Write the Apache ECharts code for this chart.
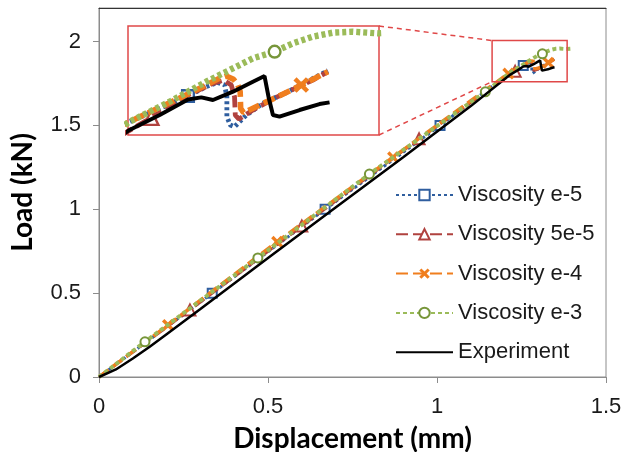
<!DOCTYPE html>
<html>
<head>
<meta charset="utf-8">
<script src="https://cdn.jsdelivr.net/npm/echarts@6/dist/echarts.min.js"></script>
<style>
html,body{margin:0;padding:0;background:#fff;}
#c{width:633px;height:452px;}
</style>
</head>
<body>
<div id="c"></div>
<script>
// ---- data ----
const xTicks = [0, 0.5, 1, 1.5];
const yTicks = [0, 0.5, 1, 1.5, 2];
const seriesNames = ['Viscosity e-5', 'Viscosity 5e-5', 'Viscosity e-4', 'Viscosity e-3', 'Experiment'];

const e5X = [0, 0.335, 0.669, 1.009, 1.2171, 1.2552, 1.2671, 1.2745, 1.2791, 1.2806, 1.2806, 1.2828, 1.2856, 1.2933, 1.3042, 1.3194, 1.3466];
const e5Y = [0, 0.50, 1.00, 1.50, 1.816, 1.8565, 1.8712, 1.878, 1.874, 1.8554, 1.8238, 1.8107, 1.808, 1.8265, 1.845, 1.862, 1.8965];
const e5Marks = [1, 2, 3, 5];

const e55X = [0, 0.269, 0.600, 0.947, 1.2312, 1.2552, 1.2715, 1.2785, 1.2835, 1.2856, 1.2861, 1.2885, 1.2976, 1.3128, 1.3368, 1.3466];
const e55Y = [0, 0.40, 0.90, 1.42, 1.8223, 1.858, 1.8765, 1.8817, 1.8738, 1.8554, 1.8265, 1.8202, 1.8344, 1.8544, 1.8817, 1.8949];
const e55Marks = [1, 2, 3, 4];

const e4X = [0, 0.204, 0.527, 0.870, 1.211, 1.2367, 1.2552, 1.2671, 1.2758, 1.2802, 1.285, 1.2878, 1.2893, 1.2896, 1.2915, 1.302, 1.3128, 1.3292, 1.3466];
const e4Y = [0, 0.31, 0.806, 1.31, 1.809, 1.8386, 1.8596, 1.8738, 1.8844, 1.888, 1.8828, 1.8738, 1.8633, 1.837, 1.8302, 1.8423, 1.8544, 1.8738, 1.8949];
const e4Marks = [1, 2, 3, 4, 17];

const e3X = [0, 0.136, 0.470, 0.800, 1.143, 1.2171, 1.2432, 1.2671, 1.2824, 1.2976, 1.3118, 1.3237, 1.3368, 1.3498, 1.3629, 1.3792, 1.400];
const e3Y = [0, 0.21, 0.71, 1.21, 1.70, 1.816, 1.8475, 1.8791, 1.8975, 1.916, 1.9265, 1.9396, 1.9502, 1.9565, 1.958, 1.9554, 1.958];
const e3Marks = [1, 2, 3, 4, 10];

const expX = [0, 0.05, 0.10, 0.15, 0.20, 0.30, 0.50, 0.70, 0.90, 1.10, 1.217, 1.2367, 1.2552, 1.2639, 1.2715, 1.2846, 1.2976, 1.3052, 1.3078, 1.3107, 1.315, 1.3281, 1.3411, 1.3477];
const expY = [0, 0.045, 0.11, 0.18, 0.255, 0.405, 0.71, 1.01, 1.31, 1.615, 1.803, 1.8265, 1.851, 1.8544, 1.8502, 1.8633, 1.8791, 1.888, 1.8554, 1.8265, 1.824, 1.8344, 1.8438, 1.8465];
const expMarks = [];

// zoom window shown on main chart (red box) and range of the inset
const boxX = [1.163, 1.385];
const boxY = [1.761, 2.006];
const insetX = [1.216, 1.380];
const insetY = [1.795, 1.967];

// ---- styles ----
const colors = ['#2F5E9F', '#B0423F', '#F07E1E', '#9BBB59', '#000000'];
const markColors = ['#2F5E9F', '#B0423F', '#F07E1E', '#77963A', '#000000'];
const xPath = 'path://M2,0 L5,3 L8,0 L10,2 L7,5 L10,8 L8,10 L5,7 L2,10 L0,8 L3,5 L0,2 Z';
const symbols = ['rect', 'triangle', xPath, 'circle', 'none'];
const dashes = [[3, 3], [12, 5], [12, 5], [4, 3], 'solid'];
const widths = [3, 3, 3.5, 4, 2.5];

const xs = [e5X, e55X, e4X, e3X, expX];
const ys = [e5Y, e55Y, e4Y, e3Y, expY];
const marks = [e5Marks, e55Marks, e4Marks, e3Marks, expMarks];

function buildSeries(i, inset) {
  const k = inset ? 1.6 : 1;
  const data = xs[i].map((x, j) => {
    const item = { value: [x, ys[i][j]] };
    if (marks[i].indexOf(j) < 0) item.symbol = 'none';
    return item;
  });
  const isX = i === 2;
  return {
    name: seriesNames[i],
    type: 'line',
    xAxisIndex: inset ? 1 : 0,
    yAxisIndex: inset ? 1 : 0,
    data: data,
    symbol: symbols[i],
    symbolSize: (isX ? 12 : (i === 1 ? 11 : 9)) * (inset ? 1.3 : 1),
    showAllSymbol: true,
    smooth: false,
    clip: true,
    z: (inset ? 30 : 2) + i,
    lineStyle: { color: colors[i], width: widths[i] * k, type: dashes[i], cap: 'butt' },
    itemStyle: isX
      ? { color: markColors[i], borderWidth: 0 }
      : { color: '#ffffff', borderColor: markColors[i], borderWidth: 2 * (inset ? 1.2 : 1) },
    emphasis: { disabled: true },
    animation: false
  };
}

const series = [];
for (let i = 0; i < 5; i++) series.push(buildSeries(i, false));
for (let i = 0; i < 5; i++) series.push(buildSeries(i, true));

const axisFont = { fontFamily: 'Liberation Sans', fontSize: 22, color: '#1a1a1a' };
const titleFont = { fontFamily: 'Lato', fontWeight: 'bold', fontSize: 28, color: '#000' };

const legendData = seriesNames.map((n, i) => i === 4
  ? { name: n, itemStyle: { color: 'rgba(0,0,0,0)', borderColor: 'rgba(0,0,0,0)', borderWidth: 0 } }
  : { name: n });

const chart = echarts.init(document.getElementById('c'), null, { renderer: 'canvas' });
chart.setOption({
  animation: false,
  backgroundColor: '#fff',
  textStyle: { fontFamily: 'Liberation Sans' },
  grid: [
    { left: 99, right: 27, top: 8, bottom: 75, show: true, borderColor: '#8c8c8c', borderWidth: 1, containLabel: false, outerBoundsMode: 'none' },
    { left: 128, top: 26, width: 251, height: 109, show: true, borderColor: '#E04848', borderWidth: 1.5, backgroundColor: '#fff', z: 10, containLabel: false, outerBoundsMode: 'none' }
  ],
  xAxis: [
    {
      type: 'value', gridIndex: 0, min: 0, max: 1.5, interval: 0.5,
      name: 'Displacement (mm)', nameLocation: 'middle', nameGap: 48, nameTextStyle: titleFont,
      axisLine: { show: true, onZero: false, lineStyle: { color: '#8c8c8c', width: 1 } },
      axisTick: { show: true, inside: false, length: 6, lineStyle: { color: '#8c8c8c' }, customValues: xTicks },
      axisLabel: { ...axisFont, margin: 19, customValues: xTicks },
      splitLine: { show: false }
    },
    {
      type: 'value', gridIndex: 1, min: insetX[0], max: insetX[1], show: false
    },
    {
      type: 'value', gridIndex: 0, position: 'top', min: 0, max: 1.5,
      axisLine: { show: true, onZero: false, lineStyle: { color: '#333', width: 1 } },
      axisTick: { show: false }, axisLabel: { show: false }, splitLine: { show: false }
    }
  ],
  yAxis: [
    {
      type: 'value', gridIndex: 0, min: 0, max: 2.2, interval: 0.5,
      name: 'Load (kN)', nameLocation: 'middle', nameGap: 62, nameRotate: 90, nameTextStyle: titleFont,
      axisLine: { show: true, onZero: false, lineStyle: { color: '#8c8c8c', width: 1 } },
      axisTick: { show: true, inside: false, length: 6, lineStyle: { color: '#8c8c8c' }, customValues: yTicks },
      axisLabel: { ...axisFont, margin: 18, customValues: yTicks },
      splitLine: { show: false }
    },
    {
      type: 'value', gridIndex: 1, min: insetY[0], max: insetY[1], show: false
    }
  ],
  legend: {
    data: legendData,
    orient: 'vertical',
    left: 395, top: 184,
    itemWidth: 57, itemHeight: 13, itemGap: 17.3,
    padding: 0,
    textStyle: { fontFamily: 'Liberation Sans', fontSize: 22, color: '#1a1a1a' },
    selectedMode: false
  },
  series: series
});

// red zoom box + dashed connectors, positioned through the chart's coordinate systems
const p00 = chart.convertToPixel({ gridIndex: 0 }, [boxX[0], boxY[1]]);
const p11 = chart.convertToPixel({ gridIndex: 0 }, [boxX[1], boxY[0]]);
const i00 = chart.convertToPixel({ gridIndex: 1 }, [insetX[1], insetY[1]]);
const i11 = chart.convertToPixel({ gridIndex: 1 }, [insetX[1], insetY[0]]);
const red = '#E04848';
chart.setOption({
  graphic: [
    { type: 'rect', shape: { x: p00[0], y: p00[1], width: p11[0] - p00[0], height: p11[1] - p00[1] },
      style: { fill: 'none', stroke: red, lineWidth: 1.5 }, z: 20, silent: true },
    { type: 'line', shape: { x1: i00[0], y1: i00[1], x2: p00[0], y2: p00[1] },
      style: { stroke: red, lineWidth: 1.5, lineDash: [5, 4] }, z: 20, silent: true },
    { type: 'line', shape: { x1: i11[0], y1: i11[1], x2: p00[0], y2: p11[1] },
      style: { stroke: red, lineWidth: 1.5, lineDash: [5, 4] }, z: 20, silent: true }
  ]
});
</script>
</body>
</html>
